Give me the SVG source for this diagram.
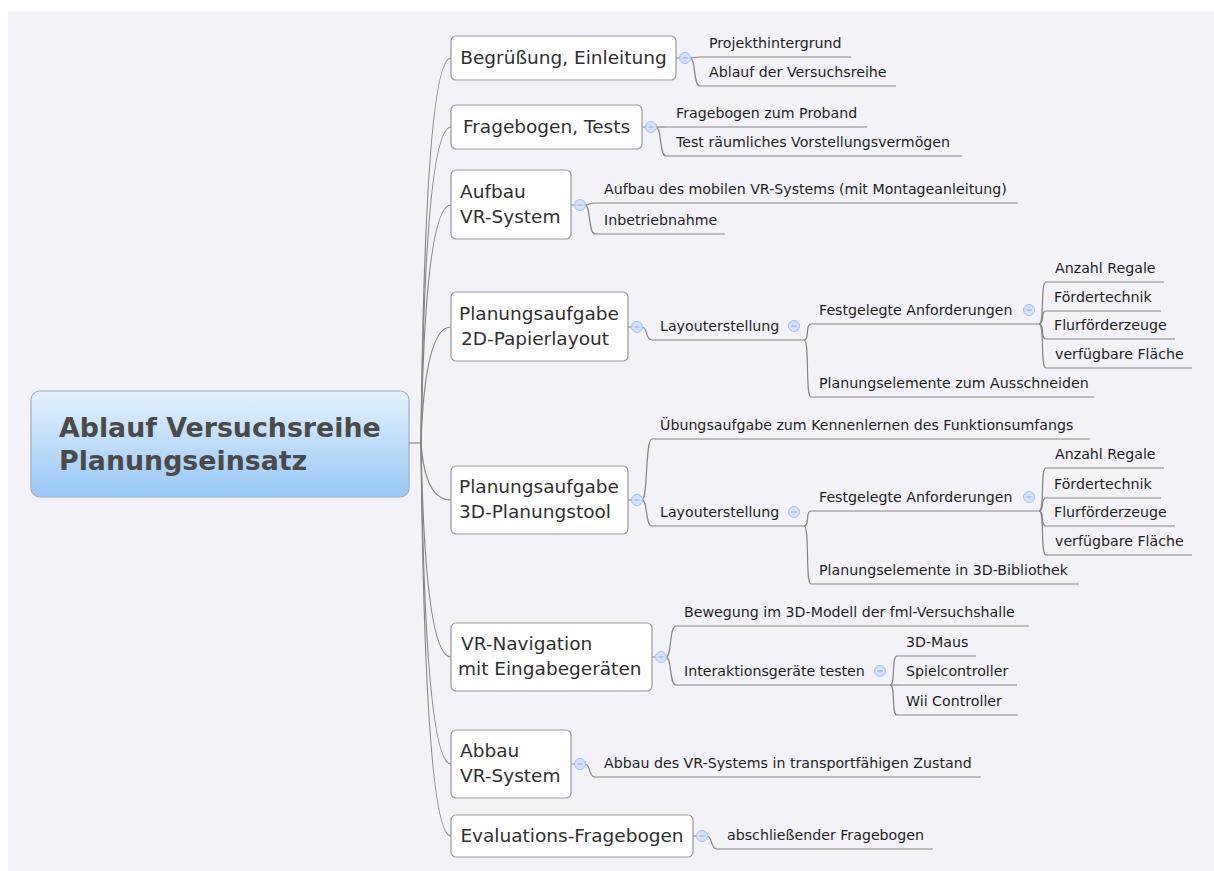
<svg xmlns="http://www.w3.org/2000/svg" width="1214" height="871" viewBox="0 0 1214 871">
  <defs>
    <linearGradient id="rootFill" x1="0" y1="0" x2="0" y2="1">
      <stop offset="0" stop-color="#e3f1fd"/>
      <stop offset="1" stop-color="#98c8f6"/>
    </linearGradient>
    <style>
      .bg { fill: #f2f2f8; }
      .root-box { fill: url(#rootFill); stroke: #9cadc2; stroke-width: 1.2; }
      .root-text { font-family: "DejaVu Sans", Verdana, sans-serif; font-weight: bold; font-size: 26.8px; fill: #4a4a4a; }
      .box { fill: #ffffff; stroke: #9a9a9a; stroke-width: 1.2; }
      .main-text { font-family: "DejaVu Sans", Verdana, sans-serif; font-size: 18.5px; fill: #2f2f2f; }
      .sub-text { font-family: "DejaVu Sans", Verdana, sans-serif; font-size: 14.2px; fill: #1e1e1e; }
      .ul { stroke: #858585; stroke-width: 1.2; fill: none; }
      .link { stroke: #858585; stroke-width: 1.2; fill: none; }
      .fold { fill: #d3e2f8; stroke: #a6c0ea; stroke-width: 1; }
      .fold-bar { stroke: #8ea9d4; stroke-width: 1; }
    </style>
  </defs>

  <rect class="bg" x="8" y="11" width="1206" height="860"/>

  <!-- connectors -->
  <g id="connectors">
    <!-- central topic to main topics -->
    <path class="link" d="M409 443 H421"/>
    <path class="link" d="M421 443 Q425 58 451 58"/>
    <path class="link" d="M421 443 Q425 127 451 127"/>
    <path class="link" d="M421 443 Q425 205 451 205"/>
    <path class="link" d="M421 443 Q425 327 451 327"/>
    <path class="link" d="M421 443 Q425 500 451 500"/>
    <path class="link" d="M421 443 Q425 657 451 657"/>
    <path class="link" d="M421 443 Q425 764 451 764"/>
    <path class="link" d="M421 443 Q425 836 451 836"/>

    <!-- box edge to fold buttons -->
    <path class="link" d="M676 58 H680 M642 127 H646 M571 205 H575 M628 327 H632 M628 500 H632 M652 657 H656 M571 764 H575 M693 836 H697"/>

    <!-- Begrüßung, Einleitung -->
    <path class="link" d="M690 58 C696 58 693 57 700 57"/>
    <path class="link" d="M690 58 C696 58 693 86 700 86"/>
    <!-- Fragebogen, Tests -->
    <path class="link" d="M656 127 H666"/>
    <path class="link" d="M656 127 C662 127 659 156 666 156"/>
    <!-- Aufbau VR-System -->
    <path class="link" d="M585 205 C591 205 588 203 595 203"/>
    <path class="link" d="M585 205 C591 205 588 234 595 234"/>
    <!-- Planungsaufgabe 2D -->
    <path class="link" d="M642 327 C648 327 645 340 652 340"/>
    <path class="link" d="M804 340 C810 340 805 324 811 324"/>
    <path class="link" d="M804 340 C810 340 805 397 811 397"/>
    <path class="link" d="M1039 324 C1045 324 1040 282 1046 282"/>
    <path class="link" d="M1039 324 C1045 324 1040 311 1046 311"/>
    <path class="link" d="M1039 324 C1045 324 1040 339 1046 339"/>
    <path class="link" d="M1039 324 C1045 324 1040 368 1046 368"/>
    <!-- Planungsaufgabe 3D -->
    <path class="link" d="M642 500 C648 500 645 439 652 439"/>
    <path class="link" d="M642 500 C648 500 645 526 652 526"/>
    <path class="link" d="M804 526 C810 526 805 511 811 511"/>
    <path class="link" d="M804 526 C810 526 805 584 811 584"/>
    <path class="link" d="M1039 511 C1045 511 1040 468 1046 468"/>
    <path class="link" d="M1039 511 C1045 511 1040 498 1046 498"/>
    <path class="link" d="M1039 511 C1045 511 1040 526 1046 526"/>
    <path class="link" d="M1039 511 C1045 511 1040 555 1046 555"/>
    <!-- VR-Navigation -->
    <path class="link" d="M666 657 C672 657 669 626 676 626"/>
    <path class="link" d="M666 657 C672 657 669 685 676 685"/>
    <path class="link" d="M890 685 C896 685 891 656 897 656"/>
    <path class="link" d="M890 685 H897"/>
    <path class="link" d="M890 685 C896 685 891 715 897 715"/>
    <!-- Abbau VR-System -->
    <path class="link" d="M585 764 C591 764 588 777 595 777"/>
    <!-- Evaluations-Fragebogen -->
    <path class="link" d="M707 836 C713 836 710 849 717 849"/>
  </g>

  <!-- central topic -->
  <g id="root">
    <rect class="root-box" x="31" y="391" width="378" height="106" rx="9"/>
    <text class="root-text" x="59" y="437">Ablauf Versuchsreihe</text>
    <text class="root-text" x="59" y="470">Planungseinsatz</text>
  </g>

  <!-- main topics -->
  <g id="topic-begruessung">
    <rect class="box" x="451" y="36" width="225" height="44" rx="5"/>
    <text class="main-text" x="563.5" y="64" text-anchor="middle">Begrüßung, Einleitung</text>
    <circle class="fold" cx="685" cy="58" r="5.5"/>
    <line class="fold-bar" x1="682.5" y1="58" x2="687.5" y2="58"/>
  </g>
  <g id="topic-fragebogen">
    <rect class="box" x="451" y="105" width="191" height="44" rx="5"/>
    <text class="main-text" x="546.5" y="133" text-anchor="middle">Fragebogen, Tests</text>
    <circle class="fold" cx="651" cy="127" r="5.5"/>
    <line class="fold-bar" x1="648.5" y1="127" x2="653.5" y2="127"/>
  </g>
  <g id="topic-aufbau">
    <rect class="box" x="451" y="170" width="120" height="69" rx="5"/>
    <text class="main-text" x="460" y="198">Aufbau</text>
    <text class="main-text" x="460" y="223">VR-System</text>
    <circle class="fold" cx="580" cy="205" r="5.5"/>
    <line class="fold-bar" x1="577.5" y1="205" x2="582.5" y2="205"/>
  </g>
  <g id="topic-planung-2d">
    <rect class="box" x="451" y="292" width="177" height="69" rx="5"/>
    <text class="main-text" x="459" y="320">Planungsaufgabe</text>
    <text class="main-text" x="461" y="345">2D-Papierlayout</text>
    <circle class="fold" cx="637" cy="327" r="5.5"/>
    <line class="fold-bar" x1="634.5" y1="327" x2="639.5" y2="327"/>
  </g>
  <g id="topic-planung-3d">
    <rect class="box" x="451" y="466" width="177" height="68" rx="5"/>
    <text class="main-text" x="459" y="493">Planungsaufgabe</text>
    <text class="main-text" x="459" y="518">3D-Planungstool</text>
    <circle class="fold" cx="637" cy="500" r="5.5"/>
    <line class="fold-bar" x1="634.5" y1="500" x2="639.5" y2="500"/>
  </g>
  <g id="topic-navigation">
    <rect class="box" x="451" y="623" width="201" height="68" rx="5"/>
    <text class="main-text" x="461" y="650">VR-Navigation</text>
    <text class="main-text" x="458" y="675">mit Eingabegeräten</text>
    <circle class="fold" cx="661" cy="657" r="5.5"/>
    <line class="fold-bar" x1="658.5" y1="657" x2="663.5" y2="657"/>
  </g>
  <g id="topic-abbau">
    <rect class="box" x="451" y="730" width="120" height="68" rx="5"/>
    <text class="main-text" x="460" y="757">Abbau</text>
    <text class="main-text" x="460" y="782">VR-System</text>
    <circle class="fold" cx="580" cy="764" r="5.5"/>
    <line class="fold-bar" x1="577.5" y1="764" x2="582.5" y2="764"/>
  </g>
  <g id="topic-evaluation">
    <rect class="box" x="451" y="815" width="242" height="42" rx="5"/>
    <text class="main-text" x="572" y="842" text-anchor="middle">Evaluations-Fragebogen</text>
    <circle class="fold" cx="702" cy="836" r="5.5"/>
    <line class="fold-bar" x1="699.5" y1="836" x2="704.5" y2="836"/>
  </g>

  <!-- subtopics: Begrüßung, Einleitung -->
  <g id="sub-projekthintergrund">
    <text class="sub-text" x="709" y="48">Projekthintergrund</text>
    <line class="ul" x1="700" y1="57" x2="851" y2="57"/>
  </g>
  <g id="sub-ablauf">
    <text class="sub-text" x="709" y="77">Ablauf der Versuchsreihe</text>
    <line class="ul" x1="700" y1="86" x2="896" y2="86"/>
  </g>

  <!-- subtopics: Fragebogen, Tests -->
  <g id="sub-fragebogen-proband">
    <text class="sub-text" x="676" y="118">Fragebogen zum Proband</text>
    <line class="ul" x1="666" y1="127" x2="867" y2="127"/>
  </g>
  <g id="sub-test-raeumlich">
    <text class="sub-text" x="676" y="147">Test räumliches Vorstellungsvermögen</text>
    <line class="ul" x1="666" y1="156" x2="962" y2="156"/>
  </g>

  <!-- subtopics: Aufbau VR-System -->
  <g id="sub-aufbau-mobil">
    <text class="sub-text" x="604" y="194">Aufbau des mobilen VR-Systems (mit Montageanleitung)</text>
    <line class="ul" x1="595" y1="203" x2="1018" y2="203"/>
  </g>
  <g id="sub-inbetriebnahme">
    <text class="sub-text" x="604" y="225">Inbetriebnahme</text>
    <line class="ul" x1="595" y1="234" x2="725" y2="234"/>
  </g>

  <!-- subtopics: Planungsaufgabe 2D-Papierlayout -->
  <g id="sub-2d-layout">
    <text class="sub-text" x="660" y="331">Layouterstellung</text>
    <line class="ul" x1="652" y1="340" x2="804" y2="340"/>
    <circle class="fold" cx="794" cy="326" r="5.5"/>
    <line class="fold-bar" x1="791.5" y1="326" x2="796.5" y2="326"/>
  </g>
  <g id="sub-2d-anforderungen">
    <text class="sub-text" x="819" y="315">Festgelegte Anforderungen</text>
    <line class="ul" x1="811" y1="324" x2="1039" y2="324"/>
    <circle class="fold" cx="1029" cy="310" r="5.5"/>
    <line class="fold-bar" x1="1026.5" y1="310" x2="1031.5" y2="310"/>
  </g>
  <g id="sub-2d-regale">
    <text class="sub-text" x="1055" y="273">Anzahl Regale</text>
    <line class="ul" x1="1046" y1="282" x2="1164" y2="282"/>
  </g>
  <g id="sub-2d-foerdertechnik">
    <text class="sub-text" x="1054" y="302">Fördertechnik</text>
    <line class="ul" x1="1046" y1="311" x2="1161" y2="311"/>
  </g>
  <g id="sub-2d-flurfoerderzeuge">
    <text class="sub-text" x="1054" y="330">Flurförderzeuge</text>
    <line class="ul" x1="1046" y1="339" x2="1175" y2="339"/>
  </g>
  <g id="sub-2d-flaeche">
    <text class="sub-text" x="1055" y="359">verfügbare Fläche</text>
    <line class="ul" x1="1046" y1="368" x2="1192" y2="368"/>
  </g>
  <g id="sub-2d-elemente">
    <text class="sub-text" x="819" y="388">Planungselemente zum Ausschneiden</text>
    <line class="ul" x1="811" y1="397" x2="1094" y2="397"/>
  </g>

  <!-- subtopics: Planungsaufgabe 3D-Planungstool -->
  <g id="sub-3d-uebung">
    <text class="sub-text" x="660" y="430">Übungsaufgabe zum Kennenlernen des Funktionsumfangs</text>
    <line class="ul" x1="652" y1="439" x2="1090" y2="439"/>
  </g>
  <g id="sub-3d-layout">
    <text class="sub-text" x="660" y="517">Layouterstellung</text>
    <line class="ul" x1="652" y1="526" x2="804" y2="526"/>
    <circle class="fold" cx="794" cy="512" r="5.5"/>
    <line class="fold-bar" x1="791.5" y1="512" x2="796.5" y2="512"/>
  </g>
  <g id="sub-3d-anforderungen">
    <text class="sub-text" x="819" y="502">Festgelegte Anforderungen</text>
    <line class="ul" x1="811" y1="511" x2="1039" y2="511"/>
    <circle class="fold" cx="1029" cy="497" r="5.5"/>
    <line class="fold-bar" x1="1026.5" y1="497" x2="1031.5" y2="497"/>
  </g>
  <g id="sub-3d-regale">
    <text class="sub-text" x="1055" y="459">Anzahl Regale</text>
    <line class="ul" x1="1046" y1="468" x2="1164" y2="468"/>
  </g>
  <g id="sub-3d-foerdertechnik">
    <text class="sub-text" x="1054" y="489">Fördertechnik</text>
    <line class="ul" x1="1046" y1="498" x2="1161" y2="498"/>
  </g>
  <g id="sub-3d-flurfoerderzeuge">
    <text class="sub-text" x="1054" y="517">Flurförderzeuge</text>
    <line class="ul" x1="1046" y1="526" x2="1175" y2="526"/>
  </g>
  <g id="sub-3d-flaeche">
    <text class="sub-text" x="1055" y="546">verfügbare Fläche</text>
    <line class="ul" x1="1046" y1="555" x2="1192" y2="555"/>
  </g>
  <g id="sub-3d-elemente">
    <text class="sub-text" x="819" y="575">Planungselemente in 3D-Bibliothek</text>
    <line class="ul" x1="811" y1="584" x2="1079" y2="584"/>
  </g>

  <!-- subtopics: VR-Navigation -->
  <g id="sub-bewegung">
    <text class="sub-text" x="684" y="617">Bewegung im 3D-Modell der fml-Versuchshalle</text>
    <line class="ul" x1="676" y1="626" x2="1029" y2="626"/>
  </g>
  <g id="sub-interaktion">
    <text class="sub-text" x="684" y="676">Interaktionsgeräte testen</text>
    <line class="ul" x1="676" y1="685" x2="890" y2="685"/>
    <circle class="fold" cx="880" cy="671" r="5.5"/>
    <line class="fold-bar" x1="877.5" y1="671" x2="882.5" y2="671"/>
  </g>
  <g id="sub-3d-maus">
    <text class="sub-text" x="906" y="647">3D-Maus</text>
    <line class="ul" x1="897" y1="656" x2="976" y2="656"/>
  </g>
  <g id="sub-spielcontroller">
    <text class="sub-text" x="906" y="676">Spielcontroller</text>
    <line class="ul" x1="897" y1="685" x2="1017" y2="685"/>
  </g>
  <g id="sub-wii">
    <text class="sub-text" x="906" y="706">Wii Controller</text>
    <line class="ul" x1="897" y1="715" x2="1018" y2="715"/>
  </g>

  <!-- subtopics: Abbau VR-System -->
  <g id="sub-abbau">
    <text class="sub-text" x="604" y="768">Abbau des VR-Systems in transportfähigen Zustand</text>
    <line class="ul" x1="595" y1="777" x2="981" y2="777"/>
  </g>

  <!-- subtopics: Evaluations-Fragebogen -->
  <g id="sub-abschluss">
    <text class="sub-text" x="727" y="840">abschließender Fragebogen</text>
    <line class="ul" x1="717" y1="849" x2="933" y2="849"/>
  </g>
</svg>
